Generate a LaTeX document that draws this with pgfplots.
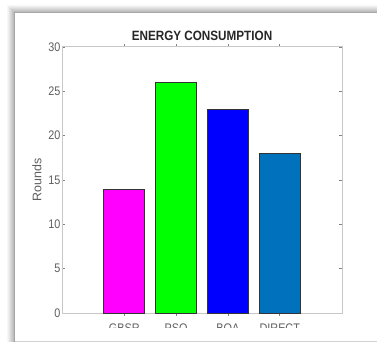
\documentclass[border=0pt]{standalone}
\usepackage{pgfplots}
\pgfplotsset{compat=1.18}
\usepackage{fontspec}
\setmainfont{Liberation Sans}[FakeStretch=0.87]
\newfontfamily\ylfont{Liberation Sans}
\definecolor{matblue}{RGB}{0,114,189}
\definecolor{mag}{RGB}{255,0,255}
\definecolor{grn}{RGB}{0,255,0}
\definecolor{blu}{RGB}{0,0,255}
\definecolor{axgray}{RGB}{200,200,200}
\definecolor{labgray}{RGB}{95,95,95}
\begin{document}
\begin{tikzpicture}[x=1bp,y=1bp]
\useasboundingbox (0,0) rectangle (377,344);
\fill[white] (0,0) rectangle (377,344);
% frame shadow
\foreach \i/\g in {0/97,1/94,2/90,3/86,4/82,5/78,6/74,7/70} {
  \draw[black!\the\numexpr 100-\g\relax!white, line width=1bp]
    (7+\i,2) -- (7+\i,338-\i) -- (377,338-\i);
}
\draw[gray!70, line width=1bp] (14.5,2) -- (14.5,331.5) -- (377,331.5);
\draw[gray!35, line width=1bp] (15,2.5) -- (377,2.5);
\begin{axis}[
  at={(62bp,31bp)}, anchor=south west,
  scale only axis, width=280bp, height=266bp,
  xmin=-0.2, xmax=5.2, ymin=0, ymax=30,
  xtick={1,2,3,4},
  xticklabels={GBSR,PSO,BOA,DIRECT},
  ytick={0,5,10,15,20,25,30},
  tick align=inside, tick pos=both,
  major tick length=3bp,
  axis line style={axgray, line width=1bp},
  every tick/.style={gray, line width=0.6bp},
  tick label style={font=\fontsize{12.5}{12.5}\selectfont, text=labgray,
    /pgf/number format/assume math mode=true},
  yticklabel style={xshift=2bp},
  xticklabel style={yshift=-4bp},
  title={\textbf{ENERGY CONSUMPTION}},
  title style={font=\fontsize{13.5}{13.5}\selectfont, text=black!85, yshift=-3bp},
  ylabel={\ylfont Rounds},
  ylabel style={font=\fontsize{12.5}{12.5}\selectfont, text=labgray, yshift=0bp},
  ybar, bar width=41bp,
  clip=false,
]
\addplot[fill=mag, draw=black!80, line width=0.6bp, bar shift=0pt] coordinates {(1,14)};
\addplot[fill=grn, draw=black!80, line width=0.6bp, bar shift=0pt] coordinates {(2,26)};
\addplot[fill=blu, draw=black!80, line width=0.6bp, bar shift=0pt] coordinates {(3,23)};
\addplot[fill=matblue, draw=black!80, line width=0.6bp, bar shift=0pt] coordinates {(4,18)};
\end{axis}
\fill[white] (16,3.5) rectangle (377,16);
\end{tikzpicture}
\end{document}
